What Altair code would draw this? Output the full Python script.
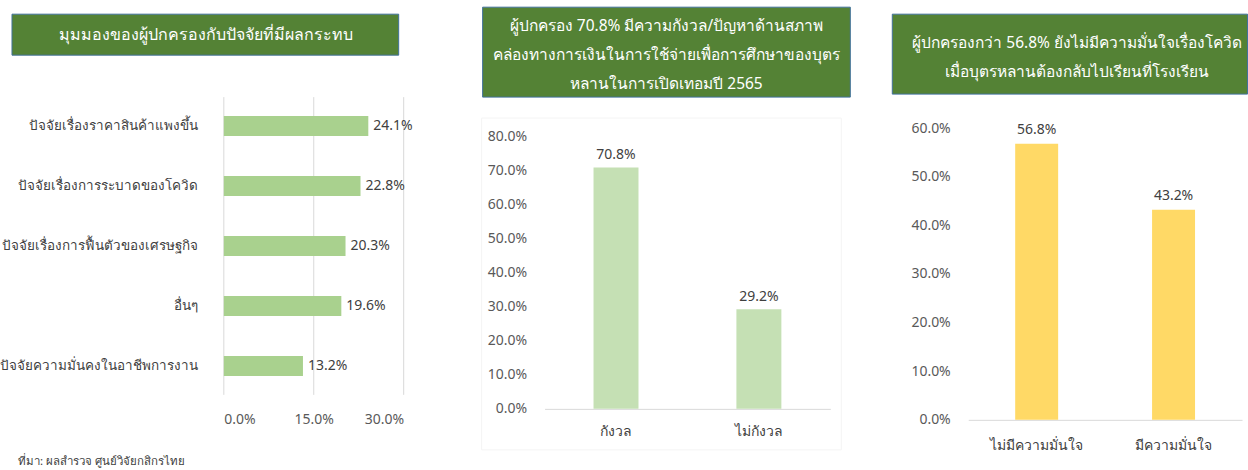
import altair as alt
import pandas as pd

# ---------------- data ----------------
factor_labels = [
    "ปัจจัยเรื่องราคาสินค้าแพงขึ้น",
    "ปัจจัยเรื่องการระบาดของโควิด",
    "ปัจจัยเรื่องการฟื้นตัวของเศรษฐกิจ",
    "อื่นๆ",
    "ปัจจัยความมั่นคงในอาชีพการงาน",
]
factor_values = [0.241, 0.228, 0.203, 0.196, 0.132]
factor_ticks = [0.0, 0.15, 0.30]

worry_labels = ["กังวล", "ไม่กังวล"]
worry_values = [0.708, 0.292]
worry_ticks = [0.0, 0.1, 0.2, 0.3, 0.4, 0.5, 0.6, 0.7, 0.8]

conf_labels = ["ไม่มีความมั่นใจ", "มีความมั่นใจ"]
conf_values = [0.568, 0.432]
conf_ticks = [0.0, 0.1, 0.2, 0.3, 0.4, 0.5, 0.6]

title1 = ["มุมมองของผู้ปกครองกับปัจจัยที่มีผลกระทบ"]
title2 = [
    "ผู้ปกครอง 70.8% มีความกังวล/ปัญหาด้านสภาพ",
    "คล่องทางการเงินในการใช้จ่ายเพื่อการศึกษาของบุตร",
    "หลานในการเปิดเทอมปี 2565",
]
title3 = [
    "ผู้ปกครองกว่า 56.8% ยังไม่มีความมั่นใจเรื่องโควิด",
    "เมื่อบุตรหลานต้องกลับไปเรียนที่โรงเรียน",
]
source_note = "ที่มา: ผลสำรวจ ศูนย์วิจัยกสิกรไทย"

# ---------------- style ----------------
FONT = "Noto Sans, Tahoma, sans-serif"
GREEN = "#548235"
BORDER = "#41719C"
TXT = "#404040"
AX = "#595959"
H = 470

df1 = pd.DataFrame({"cat": factor_labels, "val": factor_values})
df1t = pd.DataFrame({"val": factor_ticks})
df2 = pd.DataFrame({"cat": worry_labels, "val": worry_values})
df3 = pd.DataFrame({"cat": conf_labels, "val": conf_values})
one = pd.DataFrame({"k": [0]})


def title_box(lines, x, x2, y, y2, tx, ty, lh=29, fs=15.5):
    box = alt.Chart(one).mark_rect(fill=GREEN, stroke=BORDER, strokeWidth=1).encode(
        x=alt.value(x), x2=alt.value(x2), y=alt.value(y), y2=alt.value(y2)
    )
    txt = alt.Chart(one).mark_text(
        font=FONT, fontSize=fs, color="white", align="center", baseline="middle", lineHeight=lh
    ).encode(x=alt.value(tx), y=alt.value(ty), text=alt.value(lines))
    return [box, txt]


# ---------------- panel 1 ----------------
sx1 = alt.Scale(domain=[0, 0.3], range=[223, 403], nice=False)
sy1 = alt.Scale(domain=factor_labels, range=[96, 396], paddingInner=0, paddingOuter=0)
ax1x = alt.Axis(
    values=factor_ticks, format=".1%", grid=False, domain=False, ticks=False, tickSize=0,
    offset=395 - H, labelPadding=18, labelFont=FONT, labelFontSize=14, labelColor=AX, title=None)
ax1y = alt.Axis(
    domain=False, ticks=False, tickSize=0, offset=-197, labelPadding=0,
    labelFont=FONT, labelFontSize=13.5, labelColor=TXT, labelLimit=260, title=None)

X1 = alt.X("val:Q", scale=sx1, axis=ax1x)
Y1 = alt.Y("cat:N", sort=factor_labels, scale=sy1, axis=ax1y)

grid1 = alt.Chart(df1t).mark_rule(color="#D9D9D9", strokeWidth=1).encode(
    x=X1, y=alt.value(97), y2=alt.value(395),
)
bars1 = alt.Chart(df1).mark_bar(size=20, color="#A9D18E").encode(x=X1, y=Y1)
lab1 = alt.Chart(df1).mark_text(
    font=FONT, fontSize=14, color=TXT, align="left", baseline="middle", dx=5
).encode(x=X1, y=Y1, text=alt.Text("val:Q", format=".1%"))
src = alt.Chart(one).mark_text(
    font=FONT, fontSize=11.5, color=TXT, align="left", baseline="middle"
).encode(x=alt.value(17), y=alt.value(462), text=alt.value(source_note))

p1 = alt.layer(grid1, bars1, lab1, src, *title_box(title1, 11, 398, 14, 55, 205, 35, fs=16)).properties(
    width=420, height=H
)

# ---------------- panel 2 ----------------
sx2 = alt.Scale(domain=worry_labels, range=[124, 410], paddingInner=0, paddingOuter=0)
sy2 = alt.Scale(domain=[0, 0.8], range=[409, 136], nice=False)
ax2x = alt.Axis(
    domain=True, domainColor="#D9D9D9", ticks=False, tickSize=0, offset=409 - H,
    labelPadding=16, labelAngle=0, labelFont=FONT, labelFontSize=14, labelColor=TXT, title=None)
ax2y = alt.Axis(
    values=worry_ticks, format=".1%", grid=False, domain=False, ticks=False, tickSize=0,
    offset=-110, labelPadding=4, labelFont=FONT, labelFontSize=14, labelColor=AX, title=None)
X2 = alt.X("cat:N", sort=worry_labels, scale=sx2, axis=ax2x)
Y2 = alt.Y("val:Q", scale=sy2, axis=ax2y)

frame2 = alt.Chart(one).mark_rect(fill=None, stroke="#F4F4F4", strokeWidth=1).encode(
    x=alt.value(61), x2=alt.value(421), y=alt.value(118), y2=alt.value(450)
)
bars2 = alt.Chart(df2).mark_bar(size=45, color="#C5E0B4").encode(x=X2, y=Y2)
lab2 = alt.Chart(df2).mark_text(
    font=FONT, fontSize=14, color=TXT, align="center", baseline="bottom", dy=-5
).encode(x=X2, y=Y2, text=alt.Text("val:Q", format=".1%"))
p2 = alt.layer(frame2, bars2, lab2, *title_box(title2, 62, 430, 7, 97, 246, 26)).properties(
    width=420, height=H
)

# ---------------- panel 3 ----------------
sx3 = alt.Scale(domain=conf_labels, range=[128, 402], paddingInner=0, paddingOuter=0)
sy3 = alt.Scale(domain=[0, 0.6], range=[420, 128], nice=False)
ax3x = alt.Axis(
    domain=True, domainColor="#D9D9D9", ticks=False, tickSize=0, offset=420 - H,
    labelPadding=19, labelAngle=0, labelFont=FONT, labelFontSize=14, labelColor=TXT, title=None)
ax3y = alt.Axis(
    values=conf_ticks, format=".1%", grid=False, domain=False, ticks=False, tickSize=0,
    offset=-114, labelPadding=4, labelFont=FONT, labelFontSize=14, labelColor=AX, title=None)
X3 = alt.X("cat:N", sort=conf_labels, scale=sx3, axis=ax3x)
Y3 = alt.Y("val:Q", scale=sy3, axis=ax3y)

bars3 = alt.Chart(df3).mark_bar(size=43, color="#FFD966").encode(x=X3, y=Y3)
lab3 = alt.Chart(df3).mark_text(
    font=FONT, fontSize=14, color=TXT, align="center", baseline="bottom", dy=-7
).encode(x=X3, y=Y3, text=alt.Text("val:Q", format=".1%"))
p3 = alt.layer(bars3, lab3, *title_box(title3, 52, 407.5, 14, 94, 237, 43)).properties(
    width=408, height=H
)

chart = alt.hconcat(p1, p2, p3, spacing=0, bounds="flush").properties(
    padding=0, background="white"
).configure_view(stroke=None).resolve_scale(x="independent", y="independent")

chart.save("out.html", embed_options={"renderer": "svg", "actions": False})
